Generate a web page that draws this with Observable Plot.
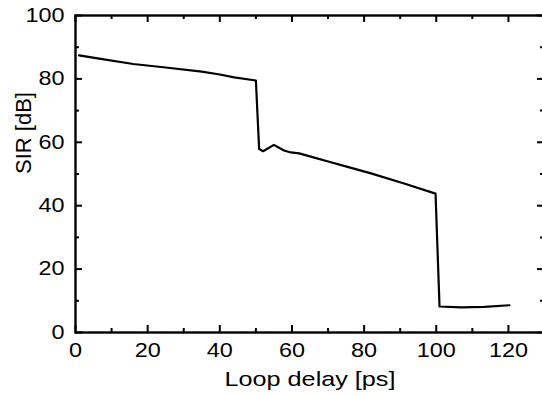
<!DOCTYPE html>
<html>
<head>
<meta charset="utf-8">
<script src="https://cdn.jsdelivr.net/npm/d3@7"></script>
<script src="https://cdn.jsdelivr.net/npm/@observablehq/plot@0.6"></script>
<style>
  html, body { margin: 0; padding: 0; background: #fff; }
  #chart svg { display: block; }
</style>
</head>
<body>
<div id="chart"></div>
<script>
// Data
const delay = [1, 7, 16, 25, 35, 40, 44, 50, 50.9, 52, 55, 57.8, 59.7, 62, 65.2, 70.8, 75.9, 81.9, 91.1, 99.8, 100.9, 106.9, 113.3, 120.3];
const sir   = [87.4, 86.3, 84.7, 83.6, 82.3, 81.4, 80.5, 79.5, 57.9, 57.2, 59.2, 57.4, 56.8, 56.5, 55.5, 53.7, 52.1, 50.2, 47.0, 43.8, 8.2, 7.9, 8.1, 8.6];
const xMajor = [0, 20, 40, 60, 80, 100, 120];
const xMinor = [10, 30, 50, 70, 90, 110, 130];
const yMajor = [0, 20, 40, 60, 80, 100];
const yMinor = [10, 30, 50, 70, 90];
const xTitle = "Loop delay [ps]";
const yTitle = "SIR [dB]";

const data = delay.map((d, i) => ({delay: d, sir: sir[i]}));

const W = 542, H = 396;
const mL = 75, mR = -2, mT = 15, mB = 64;
const pw = W - mL - mR, ph = H - mT - mB;
const major = 7, minor = 4;

const svg = Plot.plot({
  width: W,
  height: H,
  marginLeft: mL,
  marginRight: mR,
  marginTop: mT,
  marginBottom: mB,
  style: {fontFamily: "'Liberation Sans', Arial, sans-serif", fontSize: "19px", color: "#000", background: "#fff"},
  x: {domain: [0, 130]},
  y: {domain: [0, 100]},
  marks: [
    // tick labels
    Plot.axisX(xMajor, {tickSize: 0, tickPadding: 11, label: null, fontSize: 19.5}),
    Plot.axisY(yMajor, {tickSize: 0, tickPadding: 11, label: null, fontSize: 19.5}),
    // inward tick marks: bottom
    Plot.tickX(xMajor, {x: d => d, insetTop: ph - major, strokeWidth: 2}),
    Plot.tickX(xMinor, {x: d => d, insetTop: ph - minor, strokeWidth: 2}),
    // top
    Plot.tickX(xMajor, {x: d => d, insetBottom: ph - major, strokeWidth: 2}),
    Plot.tickX(xMinor, {x: d => d, insetBottom: ph - minor, strokeWidth: 2}),
    // left
    Plot.tickY(yMajor, {y: d => d, insetRight: pw - major, strokeWidth: 2}),
    Plot.tickY(yMinor, {y: d => d, insetRight: pw - minor, strokeWidth: 2}),
    // right
    Plot.tickY(yMajor, {y: d => d, insetLeft: pw - major, strokeWidth: 2}),
    Plot.tickY(yMinor, {y: d => d, insetLeft: pw - minor, strokeWidth: 2}),
    Plot.frame({stroke: "#000", strokeWidth: 2.4}),
    Plot.line(data, {x: "delay", y: "sir", stroke: "#000", strokeWidth: 2.2, strokeLinejoin: "round"}),
    // axis titles
    Plot.text([xTitle], {text: d => d, frameAnchor: "bottom", lineAnchor: "top", dy: 39, fontSize: 21, fill: "#000"}),
    Plot.text([yTitle], {text: d => d, frameAnchor: "left", lineAnchor: "bottom", rotate: -90, dx: -45, fontSize: 22, fill: "#000"})
  ]
});

document.getElementById("chart").appendChild(svg);

// Horizontally widen the upright text as in the reference
svg.querySelectorAll("text").forEach(t => {
  const own = t.getAttribute("transform") || "";
  const par = (t.parentNode && t.parentNode.getAttribute && t.parentNode.getAttribute("transform")) || "";
  if (own.includes("rotate") || par.includes("rotate")) return;
  const len = t.getComputedTextLength();
  if (len > 0) {
    t.setAttribute("textLength", (len * 1.2).toFixed(2));
    t.setAttribute("lengthAdjust", "spacingAndGlyphs");
  }
});
</script>
</body>
</html>
